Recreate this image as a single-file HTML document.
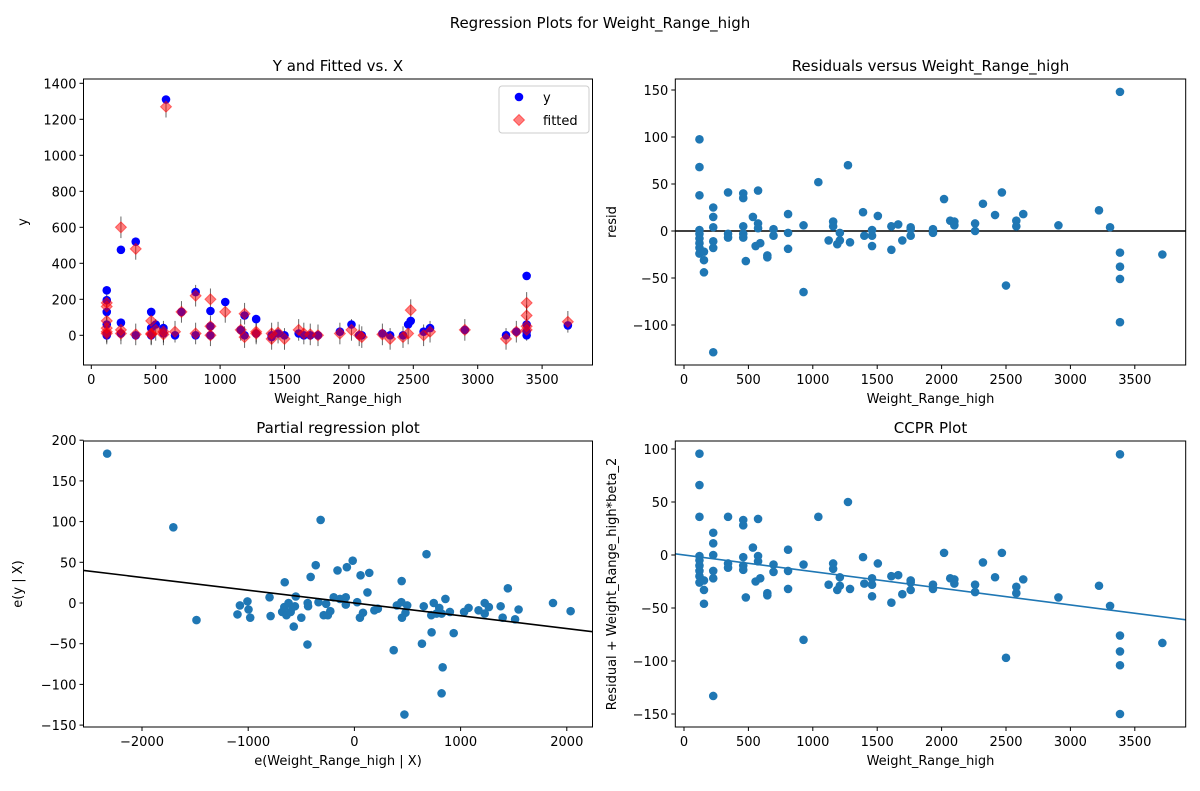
<!DOCTYPE html>
<html><head><meta charset="utf-8"><style>
body{margin:0;background:#fff}
svg text{font-family:"DejaVu Sans","Liberation Sans",sans-serif;fill:#000}
</style></head><body>
<svg id="fig" width="1200" height="786" viewBox="0 0 1200 786" xmlns="http://www.w3.org/2000/svg">
<rect width="1200" height="786" fill="#fff"/>
<text x="600" y="28" font-size="15" text-anchor="middle">Regression Plots for Weight_Range_high</text>
</svg>
<script>
// ---- Y and Fitted vs X ----
const tlX   = [120,120,120,120,120,120,230,230,230,345,345,465,465,465,500,560,560,580,650,700,810,810,925,925,925,1040,1160,1190,1190,1280,1280,1400,1400,1450,1500,1610,1650,1700,1760,1930,2020,2080,2100,2260,2320,2420,2460,2480,2580,2630,2900,3220,3300,3380,3380,3380,3380,3700];
const tlY   = [250,195,130,60,10,0,475,70,10,520,0,130,40,0,60,40,10,1310,0,130,240,0,135,50,0,185,30,110,0,90,10,0,-10,10,0,10,0,0,0,20,60,0,0,10,0,0,60,80,20,40,30,0,20,330,60,20,0,55];
const tlFit = [180,160,80,40,20,10,600,30,10,480,5,80,10,5,30,20,5,1270,20,130,220,10,200,50,0,130,30,120,-10,20,10,-20,10,15,-20,30,10,5,0,10,30,0,-10,5,-20,-10,10,140,0,20,30,-20,20,180,110,50,30,75];
const tlYTicks = [0,200,400,600,800,1000,1200,1400];
const xTicksW = [0,500,1000,1500,2000,2500,3000,3500];
// ---- Residuals ----
const resX = [120,120,120,120,120,120,120,120,120,155,155,155,227,227,227,227,227,227,342,342,342,460,460,460,460,460,480,535,575,575,575,556,592,647,647,695,695,808,808,808,928,928,1043,1123,1158,1158,1190,1210,1210,1273,1289,1390,1400,1460,1460,1460,1505,1610,1610,1663,1695,1760,1760,1760,1933,1933,2019,2067,2099,2099,2260,2260,2321,2415,2468,2500,2580,2580,2634,2907,3222,3308,3385,3385,3385,3385,3385,3714];
const resVal = [97.5,68,38,1,-3,-8,-13,-18,-24,-22,-31,-44,25,15,4,-11,-18,-129,41,-3,-7,40,35,5,-3,-7,-32,15,43,8,3,-16,-13,-26,-28,2,-5,18,-2,-19,6,-65,52,-10,10,5,-14,-2,-10,70,-12,20,-5,1,-5,-16,16,-20,5,7,-10,4,-5,2,2,-2,34,11,10,6,8,0,29,17,41,-58,11,5,18,6,22,4,148,-23,-38,-51,-97,-25];
const resYTicks = [-100,-50,0,50,100,150];
// ---- CCPR ----
const ccprVal = [95.6,66,36,-1,-5,-10,-15,-20,-26,-24,-33,-46,21,11,0,-15,-22,-133,36,-8,-12,33,28,-2,-10,-14,-40,7,34,-1,-6,-25,-22,-36,-38,-9,-16,5,-15,-32,-9,-80,36,-28,-8,-13,-33,-21,-29,50,-32,-2,-27,-22,-28,-39,-8,-45,-20,-19,-37,-24,-33,-26,-28,-32,2,-22,-23,-27,-28,-35,-7,-21,2,-97,-30,-36,-23,-40,-29,-48,95,-76,-91,-104,-150,-83];
const ccprBeta = -0.0157;
const ccprYTicks = [-150,-100,-50,0,50,100];
// ---- Partial regression ----
const prX = [-2328,-1705,-1487,-1101,-1078,-1007,-997,-981,-799,-789,-656,-680,-660,-640,-620,-600,-580,-560,-552,-571,-500,-442,-440,-436,-412,-364,-318,-338,-289,-250,-266,-227,-195,-159,-136,-81,-81,-71,-16,26,52,58,81,123,140,188,221,370,400,442,445,448,481,471,497,636,653,679,727,724,747,773,799,821,831,821,857,899,935,1033,1075,1169,1227,1227,1266,1377,1396,1445,1513,1546,1870,2036];
const prY = [183.5,93,-21,-14,-3,2,-8,-18,7,-16,25.5,-11,-5,-15,0,-11,-5,-4,8,-29,-18,-51,0,-4,32,46.5,102,1,-15,-15,-1,-10,7,40,5,7,-2,44,52,1,-18,34,-12,13,37,-9,-7,-58,-3,1,27,-18,-12,-137,-3,-50,-4,60,-36,-15,0,-13,-6,-13,-79,-111,5,-11,-37,-11,-6,-9,0,-13,-5,-4,-18,18,-20,-8,0,-10];
const prBeta = -0.0157;
const prXTicks = [-2000,-1000,0,1000,2000];
const prYTicks = [-150,-100,-50,0,50,100,150,200];

const NS='http://www.w3.org/2000/svg';
const svg=document.getElementById('fig');
function mk(tag,attrs,parent){const e=document.createElementNS(NS,tag);for(const k in attrs)e.setAttribute(k,attrs[k]);(parent||svg).appendChild(e);return e;}
function lin(v0,p0,v1,p1){return v=>p0+(v-v0)*(p1-p0)/(v1-v0);}

function axesFrame(name,L,T,R,B,sx,sy,xt,yt,title,xlab,ylab,ylabX){
  const g=mk('g',{});
  
  
  const clip=mk('clipPath',{id:'clip-'+name},g);
  mk('rect',{x:L,y:T,width:R-L,height:B-T},clip);
  const plot=mk('g',{'clip-path':'url(#clip-'+name+')'},g);
  
  
  xt.forEach(v=>{const x=sx(v);
    const t=mk('line',{x1:x,x2:x,y1:B,y2:B+4,stroke:'#000','stroke-width':1},g);
    
    const l=mk('text',{x:x,y:B+19,'font-size':13,'text-anchor':'middle'},g);l.textContent=v<0?'\u2212'+(-v):v;
    });
  yt.forEach(v=>{const y=sy(v);
    const t=mk('line',{x1:L-4,x2:L,y1:y,y2:y,stroke:'#000','stroke-width':1},g);
    
    const l=mk('text',{x:L-7,y:y+5,'font-size':13,'text-anchor':'end'},g);l.textContent=v<0?'\u2212'+(-v):v;
    });
  const tt=mk('text',{x:(L+R)/2,y:T-8,'font-size':15,'text-anchor':'middle'},g);tt.textContent=title;
  
  const xl=mk('text',{x:(L+R)/2,y:B+38,'font-size':13,'text-anchor':'middle'},g);xl.textContent=xlab;
  
  const cy=(T+B)/2;
  const yl=mk('text',{x:ylabX,y:cy,'font-size':13,'text-anchor':'middle',transform:'rotate(-90 '+ylabX+' '+cy+')'},g);yl.textContent=ylab;
  
  return {g,plot,finish:()=>{const f=mk('rect',{x:L,y:T,width:R-L,height:B-T,fill:'none',stroke:'#000','stroke-width':1},g);
    }};
}

// TL
{const L=83.5,T=79,R=592.5,B=365;
 const sx=lin(0,91.3,1000,220.1), sy=lin(0,335.3,200,299.3);
 const a=axesFrame('y-fitted-plot',L,T,R,B,sx,sy,xTicksW,tlYTicks,'Y and Fitted vs. X','Weight_Range_high','y',27);
 tlX.forEach((x,i)=>{const X=sx(x);
   const e=mk('line',{x1:X,x2:X,y1:sy(tlFit[i]-60),y2:sy(tlFit[i]+60),stroke:'#000','stroke-opacity':0.6,'stroke-width':1},a.plot);
   });
 tlX.forEach((x,i)=>{const c=mk('circle',{cx:sx(x),cy:sy(tlY[i]),r:4.3,fill:'#0000ff'},a.plot);
   });
 tlX.forEach((x,i)=>{const X=sx(x),Y=sy(tlFit[i]);
   const d=mk('polygon',{points:`${X},${Y-5.5} ${X+5.5},${Y} ${X},${Y+5.5} ${X-5.5},${Y}`,fill:'#ff0000','fill-opacity':0.5,stroke:'#ff0000','stroke-opacity':0.5,'stroke-width':1},a.plot);
   });
 a.finish();
 const lg=mk('g',{});
 
 mk('rect',{x:499,y:86,width:90,height:47,rx:3,fill:'#fff','fill-opacity':0.8,stroke:'#ccc'},lg);
 const l1=mk('circle',{cx:519,cy:97,r:4.3,fill:'#0000ff'},lg);
 
 const l2=mk('polygon',{points:'519,114.5 524.5,120 519,125.5 513.5,120',fill:'#ff0000','fill-opacity':0.5,stroke:'#ff0000','stroke-opacity':0.5},lg);
 
 const t1=mk('text',{x:543,y:102,'font-size':13},lg);t1.textContent='y';
 const t2=mk('text',{x:543,y:125,'font-size':13},lg);t2.textContent='fitted';
}
// TR
{const L=675.3,T=79,R=1185.7,B=365;
 const sx=lin(0,684,1000,812.8), sy=lin(0,231,50,184);
 const a=axesFrame('residuals-plot',L,T,R,B,sx,sy,xTicksW,resYTicks,'Residuals versus Weight_Range_high','Weight_Range_high','resid',616);
 const z=mk('line',{x1:L,x2:R,y1:sy(0),y2:sy(0),stroke:'#000','stroke-width':1.6},a.plot);
 
 resX.forEach((x,i)=>{const c=mk('circle',{cx:sx(x),cy:sy(resVal[i]),r:4.3,fill:'#1f77b4'},a.plot);
   });
 a.finish();
}
// BL
{const L=83.5,T=441,R=592.5,B=727;
 const sx=lin(0,354.4,1000,460.6), sy=lin(0,603,50,562.3);
 const a=axesFrame('partial-regression-plot',L,T,R,B,sx,sy,prXTicks,prYTicks,'Partial regression plot','e(Weight_Range_high | X)','e(y | X)',22);
 prX.forEach((x,i)=>{const c=mk('circle',{cx:sx(x),cy:sy(prY[i]),r:4.3,fill:'#1f77b4'},a.plot);
   });
 const x0=-2600,x1=2400;
 const f=mk('line',{x1:sx(x0),x2:sx(x1),y1:sy(prBeta*x0),y2:sy(prBeta*x1),stroke:'#000','stroke-width':1.6},a.plot);
 
 a.finish();
}
// BR
{const L=675.3,T=441,R=1185.7,B=727;
 const sx=lin(0,684,1000,812.8), sy=lin(0,555,50,502);
 const a=axesFrame('ccpr-plot',L,T,R,B,sx,sy,xTicksW,ccprYTicks,'CCPR Plot','Weight_Range_high','Residual + Weight_Range_high*beta_2',616);
 resX.forEach((x,i)=>{const c=mk('circle',{cx:sx(x),cy:sy(ccprVal[i]),r:4.3,fill:'#1f77b4'},a.plot);
   });
 const x0=-100,x1=4000;
 const f=mk('line',{x1:sx(x0),x2:sx(x1),y1:sy(ccprBeta*x0),y2:sy(ccprBeta*x1),stroke:'#1f77b4','stroke-width':1.6},a.plot);
 
 a.finish();
}
</script>
</body></html>
